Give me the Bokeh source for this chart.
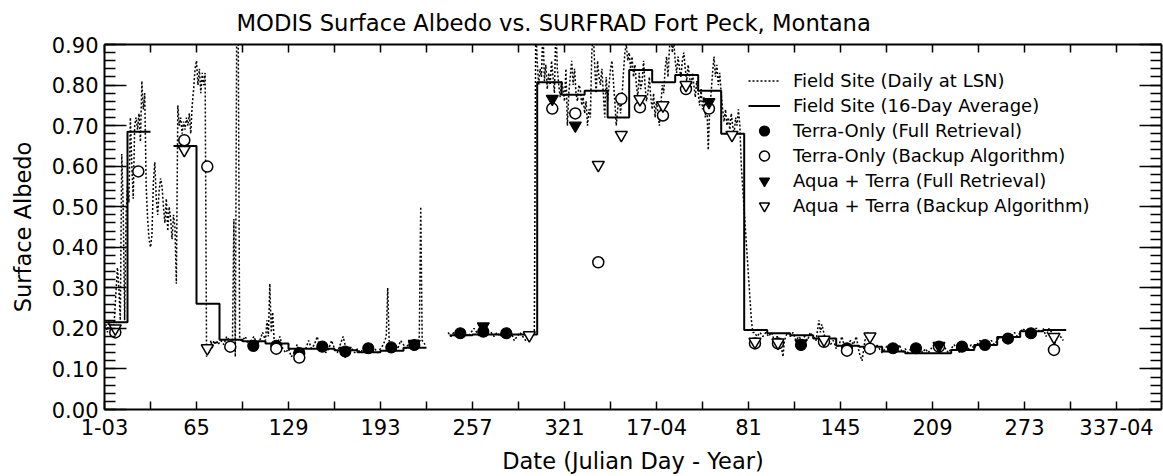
import numpy as np
from bokeh.plotting import figure
from bokeh.models import (LinearAxis, FixedTicker, Range1d, Legend, LegendItem,
                          PrintfTickFormatter)
from bokeh.embed import file_html
from bokeh.resources import INLINE

FONT = "DejaVu Sans"

# ---------------- data ----------------
# Field site, daily albedo at local solar noon (day index: 1 = 1 Jan 2003)
spring03_day = list(range(1, 81)) + [82, 84, 86, 88, 90, 91, 92, 93, 94, 95, 96]
spring03_alb = [0.20, 0.21, 0.19, 0.22, 0.20, 0.21, 0.19, 0.23, 0.29, 0.35,
                0.30, 0.22, 0.63, 0.50, 0.22, 0.48, 0.55, 0.51, 0.72, 0.60,
                0.52, 0.70, 0.72, 0.69, 0.73, 0.66, 0.81, 0.74, 0.78, 0.55,
                0.47, 0.42, 0.40, 0.43, 0.56, 0.61, 0.52, 0.48, 0.54, 0.57,
                0.55, 0.50, 0.46, 0.52, 0.44, 0.50, 0.47, 0.42, 0.48, 0.45,
                0.31, 0.75, 0.70, 0.72, 0.68, 0.71, 0.69, 0.72, 0.70, 0.73,
                0.68, 0.75, 0.79, 0.84, 0.86, 0.80, 0.84, 0.78, 0.83, 0.80,
                0.83, 0.13, 0.16, 0.14, 0.17, 0.15, 0.17, 0.16, 0.17, 0.16,
                0.17, 0.16, 0.18, 0.17, 0.16, 0.47, 0.13, 0.97, 0.95, 0.18, 0.17]

summer03_day = [97, 99, 101, 103, 105, 107, 109, 111, 113,
                114, 115, 116, 117, 118, 119,
                121, 123, 125, 127, 129, 131, 133, 135, 137, 139,
                141, 143, 145, 147, 149, 151, 153, 155, 157, 159,
                161, 163, 165, 167, 169, 171, 173, 175, 177, 179,
                181, 183, 185, 187, 189, 191, 193, 195, 197,
                198, 199,
                201, 203, 205, 207, 209, 211, 213, 215, 217, 219,
                220, 221, 222, 224]
summer03_alb = [0.17, 0.18, 0.16, 0.17, 0.18, 0.16, 0.17, 0.19, 0.17,
                0.22, 0.18, 0.31, 0.19, 0.24, 0.17,
                0.16, 0.18, 0.15, 0.14, 0.15, 0.13, 0.14, 0.16, 0.13, 0.14,
                0.15, 0.17, 0.15, 0.16, 0.18, 0.15, 0.16, 0.14, 0.15, 0.17,
                0.15, 0.14, 0.16, 0.18, 0.15, 0.14, 0.15, 0.14, 0.15, 0.14,
                0.15, 0.14, 0.15, 0.14, 0.15, 0.14, 0.15, 0.16, 0.18,
                0.30, 0.17,
                0.15, 0.16, 0.15, 0.17, 0.16, 0.15, 0.17, 0.16, 0.15, 0.17,
                0.18, 0.50, 0.17, 0.16]

autumn03_day = list(range(240, 301, 2))
autumn03_alb = [0.19, 0.18, 0.19, 0.18, 0.19, 0.18, 0.19, 0.18, 0.19, 0.20,
                0.19, 0.18, 0.19, 0.18, 0.19, 0.19, 0.18, 0.19, 0.18, 0.19,
                0.19, 0.18, 0.19, 0.17, 0.18, 0.19, 0.18, 0.17, 0.18, 0.19, 0.19]

winter_day = list(range(301, 445))
winter_alb = [0.95,
              0.86, 0.80, 0.84, 0.82, 0.95, 0.81, 0.85, 0.79, 0.83, 0.80,
              0.86, 0.82, 0.78, 0.95, 0.84, 0.80, 0.77, 0.81, 0.79, 0.76,
              0.84, 0.70, 0.78, 0.82, 0.86, 0.80, 0.84, 0.78, 0.76, 0.80,
              0.79, 0.75, 0.77, 0.73, 0.76, 0.70, 0.74, 0.72, 0.88, 0.93,
              0.85, 0.78, 0.86, 0.82, 0.80, 0.84, 0.78, 0.72, 0.82, 0.76,
              0.80, 0.84, 0.86, 0.81, 0.76, 0.70, 0.74, 0.78, 0.73, 0.77,
              0.83, 0.88, 0.90, 0.86, 0.88, 0.84, 0.87, 0.82, 0.85, 0.80,
              0.77, 0.83, 0.79, 0.81, 0.86, 0.80, 0.76, 0.78, 0.82, 0.77,
              0.74, 0.78, 0.72, 0.76, 0.73, 0.70, 0.75, 0.80, 0.78, 0.84,
              0.87, 0.82, 0.89, 0.93, 0.88, 0.91, 0.86, 0.83, 0.87, 0.84,
              0.82, 0.86, 0.88, 0.84, 0.81, 0.85, 0.82, 0.79, 0.83, 0.80,
              0.77, 0.81, 0.78, 0.75, 0.79, 0.74, 0.77, 0.72, 0.76, 0.64,
              0.74, 0.78, 0.83, 0.87, 0.82, 0.85, 0.80, 0.83, 0.78, 0.74,
              0.71, 0.74, 0.70, 0.72, 0.69, 0.73, 0.70, 0.68, 0.72, 0.70,
              0.74, 0.70, 0.60]

spring04_day = ([451, 452] + list(range(453, 473, 2)) + [473, 474]
                + list(range(476, 498, 2)) + [498, 499, 500] + list(range(502, 670, 2)))
spring04_alb = [0.22, 0.19,
                0.19, 0.18, 0.19, 0.18, 0.19, 0.18, 0.19, 0.17, 0.18, 0.17,
                0.13, 0.17,
                0.19, 0.18, 0.19, 0.17, 0.18, 0.17, 0.18, 0.17, 0.19, 0.18, 0.17,
                0.22, 0.19, 0.21,
                0.18, 0.17, 0.16, 0.17, 0.15, 0.16, 0.18, 0.15, 0.16, 0.17,
                0.16, 0.18, 0.14, 0.12, 0.17, 0.19, 0.16, 0.15, 0.16, 0.15,
                0.14, 0.15, 0.16, 0.14, 0.15, 0.14, 0.16, 0.14, 0.15, 0.14,
                0.15, 0.14, 0.15, 0.16, 0.14, 0.15, 0.14, 0.15, 0.16, 0.15,
                0.14, 0.16, 0.15, 0.14, 0.15, 0.16, 0.15, 0.14, 0.15, 0.16,
                0.15, 0.16, 0.15, 0.16, 0.17, 0.16, 0.15, 0.16, 0.17, 0.16,
                0.17, 0.18, 0.17, 0.18, 0.17, 0.18, 0.19, 0.18, 0.19, 0.20,
                0.19, 0.20, 0.19, 0.20, 0.20, 0.19, 0.20, 0.18, 0.20, 0.19,
                0.16, 0.19, 0.18, 0.17]

# Field site, 16-day average (period start / end day)
avg_start = [1, 17, 49, 65, 81, 97, 113, 129, 145, 161,
             177, 193, 209, 241, 257, 273, 289, 302, 319, 335,
             351, 366, 382, 398, 414, 430, 446, 462, 478, 494,
             510, 526, 542, 558, 574, 590, 606, 622, 638, 654]
avg_end = [17, 33, 65, 81, 97, 113, 129, 145, 161, 177,
           193, 209, 225, 257, 273, 289, 302, 319, 335, 351,
           366, 382, 398, 414, 430, 446, 462, 478, 494, 510,
           526, 542, 558, 574, 590, 606, 622, 638, 654, 670]
avg_albedo = [0.215, 0.685, 0.650, 0.261, 0.172, 0.168, 0.163, 0.150, 0.150, 0.146,
              0.141, 0.145, 0.152, 0.183, 0.185, 0.185, 0.185, 0.807, 0.776, 0.786,
              0.720, 0.837, 0.807, 0.825, 0.786, 0.680, 0.196, 0.188, 0.183, 0.175,
              0.157, 0.155, 0.143, 0.139, 0.139, 0.147, 0.159, 0.179, 0.193, 0.196]

# MODIS retrievals
terra_full_day = [104.5, 120.5, 136.5, 152.5, 168.5, 184.5, 200.5, 216.5, 248.5, 264.5,
                  280.5, 485.5, 517.5, 549.5, 565.5, 597.5, 613.5, 629.5, 645.5]
terra_full_alb = [0.157, 0.157, 0.139, 0.155, 0.143, 0.151, 0.153, 0.159, 0.188, 0.192,
                  0.188, 0.159, 0.151, 0.151, 0.151, 0.155, 0.159, 0.175, 0.188]

terra_backup_day = [8.5, 24.5, 56.5, 72.5, 88.5, 120.5, 136.5, 312.5, 328.5, 344.5,
                    360.5, 373.5, 389.5, 405.5, 421.5, 453.5, 469.5, 501.5, 517.5, 533.5,
                    581.5, 661.5]
terra_backup_alb = [0.190, 0.587, 0.664, 0.599, 0.155, 0.150, 0.128, 0.742, 0.730, 0.363,
                    0.766, 0.745, 0.725, 0.790, 0.742, 0.163, 0.163, 0.167, 0.145, 0.150,
                    0.155, 0.147]

aqua_full_day = [168.5, 216.5, 264.5, 312.5, 328.5, 421.5, 485.5, 581.5]
aqua_full_alb = [0.145, 0.162, 0.205, 0.766, 0.700, 0.758, 0.163, 0.157]

aqua_backup_day = [8.5, 56.5, 72.5, 296.5, 344.5, 360.5, 373.5, 389.5, 405.5, 437.5,
                   453.5, 469.5, 501.5, 533.5, 661.5]
aqua_backup_alb = [0.200, 0.640, 0.151, 0.183, 0.603, 0.677, 0.765, 0.750, 0.800, 0.677,
                   0.167, 0.165, 0.172, 0.180, 0.179]

# axis ticks
x_tick_days = [1, 33, 65, 97, 129, 161, 193, 225, 257, 289, 321, 353,
               385, 417, 449, 481, 513, 545, 577, 609, 641, 673, 705]
x_tick_labels = ["1-03", "", "65", "", "129", "", "193", "", "257", "", "321", "",
                 "17-04", "", "81", "", "145", "", "209", "", "273", "", "337-04"]
y_ticks = [0.0, 0.1, 0.2, 0.3, 0.4, 0.5, 0.6, 0.7, 0.8, 0.9]
y_minor_ticks = [round(i * 0.02, 2) for i in range(46)]

TITLE = "MODIS Surface Albedo vs. SURFRAD Fort Peck, Montana"

# ---------------- assemble ----------------
nan = float("nan")
daily_x = spring03_day + summer03_day + [nan] + autumn03_day + winter_day + spring04_day
daily_y = spring03_alb + summer03_alb + [nan] + autumn03_alb + winter_alb + spring04_alb

step_x, step_y = [], []
prev_end = None
for s, e, v in zip(avg_start, avg_end, avg_albedo):
    if prev_end is not None and s != prev_end:
        step_x.append(nan)
        step_y.append(nan)
    step_x += [s, e]
    step_y += [v, v]
    prev_end = e

W, H = 1163, 476
BL, BR, BT, BB = 104, 2, 44, 64

p = figure(width=W, height=H, output_backend="svg", toolbar_location=None,
           x_range=Range1d(1, 736.3), y_range=Range1d(0, 0.9),
           min_border_left=BL, min_border_right=BR, min_border_top=BT, min_border_bottom=BB,
           title=TITLE)
p.outline_line_color = None
p.xgrid.visible = False
p.ygrid.visible = False
p.background_fill_color = "white"
p.border_fill_color = "white"

p.title.text_font = FONT
p.title.text_font_size = "22.7px"
p.title.text_font_style = "normal"
p.title.text_color = "black"
p.title.align = "left"
p.title.offset = 132
p.title.vertical_align = "top"
p.title.standoff = 14

xticker = FixedTicker(ticks=x_tick_days, minor_ticks=[])
yticker = FixedTicker(ticks=y_ticks, minor_ticks=y_minor_ticks)


def style(ax):
    ax.axis_line_width = 2
    ax.axis_line_color = "black"
    ax.major_tick_line_width = 1.5
    ax.minor_tick_line_width = 1.5
    ax.major_tick_line_color = "black"
    ax.minor_tick_line_color = "black"
    ax.major_label_text_font = FONT
    ax.major_label_text_font_size = "21px"
    ax.major_label_text_color = "black"
    ax.axis_label_text_font = FONT
    ax.axis_label_text_font_style = "normal"
    ax.axis_label_text_color = "black"


xa = p.xaxis[0]
style(xa)
xa.ticker = xticker
xa.major_label_overrides = dict(zip(x_tick_days, x_tick_labels))
xa.major_tick_in = 8
xa.major_tick_out = 0
xa.minor_tick_in = 0
xa.minor_tick_out = 0
xa.major_label_standoff = 9
xa.axis_label = "Date (Julian Day - Year)"
xa.axis_label_text_font_size = "22.5px"
xa.axis_label_standoff = 10

ya = p.yaxis[0]
style(ya)
ya.ticker = yticker
ya.formatter = PrintfTickFormatter(format="%.2f")
ya.major_tick_in = 22
ya.major_tick_out = 0
ya.minor_tick_in = 11
ya.minor_tick_out = 0
ya.major_label_standoff = 6
ya.axis_label = "Surface Albedo"
ya.axis_label_text_font_size = "22.5px"
ya.axis_label_standoff = 13


def mirror(ax, tick_in, minor_in):
    style(ax)
    ax.major_label_text_font_size = "0px"
    ax.major_label_text_color = None
    ax.major_label_standoff = 0
    ax.major_tick_in = tick_in
    ax.major_tick_out = 0
    ax.minor_tick_in = minor_in
    ax.minor_tick_out = 0


top = LinearAxis(ticker=xticker)
mirror(top, 8, 0)
p.add_layout(top, "above")

right = LinearAxis(ticker=yticker)
mirror(right, 22, 11)
p.add_layout(right, "right")

r_daily = p.line(daily_x, daily_y, line_color="black", line_width=1.5, line_dash="2 2")
r_avg = p.line(step_x, step_y, line_color="black", line_width=2)
r_tf = p.scatter(terra_full_day, terra_full_alb, marker="circle", size=11,
                 fill_color="black", line_color="black", line_width=1.2)
r_tb = p.scatter(terra_backup_day, terra_backup_alb, marker="circle", size=11,
                 fill_color="white", line_color="black", line_width=1.5)
r_af = p.scatter(aqua_full_day, aqua_full_alb, marker="inverted_triangle", size=12,
                 fill_color="black", line_color="black", line_width=1.2)
r_ab = p.scatter(aqua_backup_day, aqua_backup_alb, marker="inverted_triangle", size=12,
                 fill_color="white", line_color="black", line_width=1.5)

legend = Legend(items=[
    LegendItem(label="Field Site (Daily at LSN)", renderers=[r_daily]),
    LegendItem(label="Field Site (16-Day Average)", renderers=[r_avg]),
    LegendItem(label="Terra-Only (Full Retrieval)", renderers=[r_tf]),
    LegendItem(label="Terra-Only (Backup Algorithm)", renderers=[r_tb]),
    LegendItem(label="Aqua + Terra (Full Retrieval)", renderers=[r_af]),
    LegendItem(label="Aqua + Terra (Backup Algorithm)", renderers=[r_ab]),
], location=(644, 191))
legend.border_line_color = None
legend.background_fill_alpha = 0
legend.padding = 0
legend.margin = 0
legend.spacing = 0
legend.glyph_width = 32
legend.glyph_height = 25
legend.label_height = 25
legend.label_standoff = 13
legend.label_text_font = FONT
legend.label_text_font_size = "18px"
legend.label_text_color = "black"
p.add_layout(legend)

open("out.html", "w").write(file_html(p, INLINE))
